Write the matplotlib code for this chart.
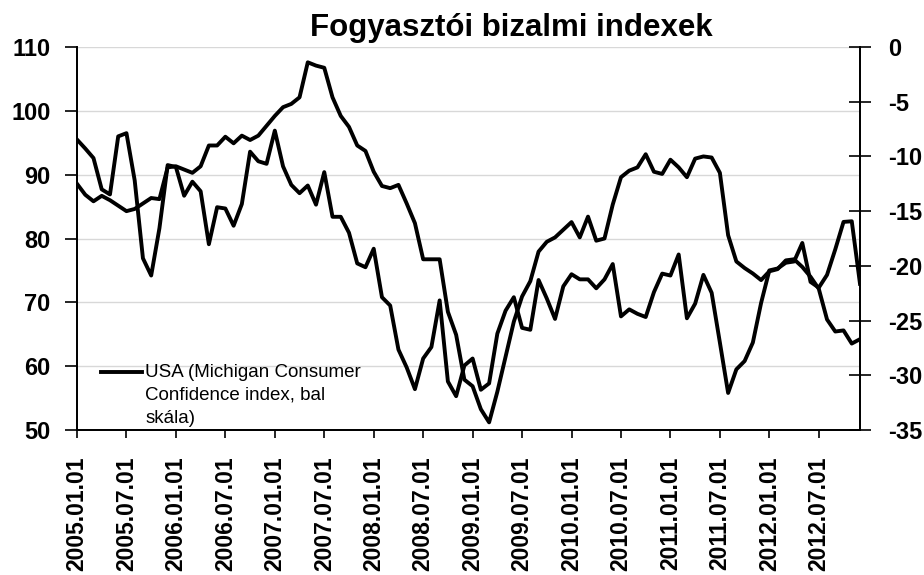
import numpy as np
import pandas as pd
import matplotlib
matplotlib.use('Agg')
import matplotlib.pyplot as plt

plt.rcParams['font.family'] = ['Liberation Sans', 'DejaVu Sans']
plt.rcParams['axes.unicode_minus'] = False

# monthly data, 2005.01 - 2012.12
months = pd.date_range('2005-01-01', periods=96, freq='MS')

# USA, Michigan consumer sentiment (left scale)
usa = [95.5, 94.1, 92.6, 87.7, 86.9, 96.0, 96.5, 89.1, 76.9, 74.2, 81.6, 91.5,
       91.2, 86.7, 88.9, 87.4, 79.1, 84.9, 84.7, 82.0, 85.4, 93.6, 92.1, 91.7,
       96.9, 91.3, 88.4, 87.1, 88.3, 85.3, 90.4, 83.4, 83.4, 80.9, 76.1, 75.5,
       78.4, 70.8, 69.5, 62.6, 59.8, 56.4, 61.2, 63.0, 70.3, 57.6, 55.3, 60.1,
       61.2, 56.3, 57.3, 65.1, 68.7, 70.8, 66.0, 65.7, 73.5, 70.6, 67.4, 72.5,
       74.4, 73.6, 73.6, 72.2, 73.6, 76.0, 67.8, 68.9, 68.2, 67.7, 71.6, 74.5,
       74.2, 77.5, 67.5, 69.8, 74.3, 71.5, 63.7, 55.8, 59.5, 60.8, 63.7, 69.9,
       75.0, 75.3, 76.2, 76.4, 79.3, 73.2, 72.3, 74.3, 78.3, 82.6, 82.7, 72.9]

# euro area consumer confidence (right scale)
euro = [-12.5, -13.5, -14.1, -13.6, -14.0, -14.5, -15.0, -14.8, -14.3, -13.8, -13.9, -11.0,
        -10.9, -11.2, -11.5, -10.9, -9.0, -9.0, -8.2, -8.8, -8.1, -8.5, -8.1, -7.2,
        -6.3, -5.5, -5.2, -4.6, -1.4, -1.7, -1.9, -4.6, -6.3, -7.3, -9.0, -9.5,
        -11.4, -12.7, -12.9, -12.6, -14.3, -16.1, -19.4, -19.4, -19.4, -24.2, -26.3, -30.4,
        -31.0, -33.1, -34.3, -31.5, -28.3, -25.1, -22.8, -21.4, -18.7, -17.8, -17.4, -16.7,
        -16.0, -17.4, -15.5, -17.7, -17.5, -14.4, -11.9, -11.3, -11.0, -9.8, -11.4, -11.6,
        -10.3, -11.0, -11.9, -10.2, -10.0, -10.1, -11.5, -17.2, -19.6, -20.2, -20.7, -21.3,
        -20.5, -20.3, -19.5, -19.4, -20.1, -21.0, -22.1, -24.9, -26.0, -25.9, -27.1, -26.7]

left_ticks = list(range(50, 111, 10))
right_ticks = list(range(-35, 1, 5))
xlabels = list(months[::6].strftime('%Y.%m.%d'))

fig = plt.figure(figsize=(9.24, 5.75), dpi=100)
ax = fig.add_axes([77/924, 1-430/575, (860-77)/924, (430-47)/575])
ax2 = ax.twinx()

x = np.arange(len(months))
ax.plot(x, usa, color='black', lw=2.8,
        label='USA (Michigan Consumer\nConfidence index, bal\nskála)')
ax2.plot(x, euro, color='black', lw=2.8)

ax.set_xlim(0, 95)
ax.set_ylim(50, 110)
ax2.set_ylim(-35, 0)

ax.set_yticks(left_ticks)
ax.set_yticklabels([str(t) for t in left_ticks], fontweight='bold', fontsize=17)
ax2.set_yticks(right_ticks)
ax2.set_yticklabels([str(t) for t in right_ticks], fontweight='bold', fontsize=17)
ax.set_xticks(x[::6])
ax.set_xticklabels(xlabels, rotation=90, fontweight='bold', fontsize=16.5)

ax.yaxis.grid(True, color='#d8d8d8', lw=1.0)
ax.set_axisbelow(True)

for a in (ax, ax2):
    a.spines['top'].set_visible(False)
    for s in ('left', 'right', 'bottom'):
        a.spines[s].set_linewidth(1.3)
ax.tick_params(axis='y', direction='out', length=9, width=1.2, pad=10)
ax.tick_params(axis='x', direction='out', length=6, width=1.2, pad=13)
ax2.tick_params(axis='y', direction='inout', length=16, width=1.2, pad=12)

leg = ax.legend(loc='upper left', bbox_to_anchor=((101-77)/783, (430-364)/383),
                frameon=False, handlelength=2.2, handletextpad=0.15, handleheight=1.2,
                borderaxespad=0, borderpad=0, fontsize=13.5)
leg.get_texts()[0].set_linespacing(1.45)
# put the line sample next to the first text line, not the middle of the block
for col in leg._legend_handle_box.get_children():
    for row in col.get_children():
        row.align = 'top'

fig.text(511/924, 1-28/575, 'Fogyasztói bizalmi indexek', ha='center', va='center',
         fontsize=22.5, fontweight='bold')

fig.savefig('out.png', dpi=100)
